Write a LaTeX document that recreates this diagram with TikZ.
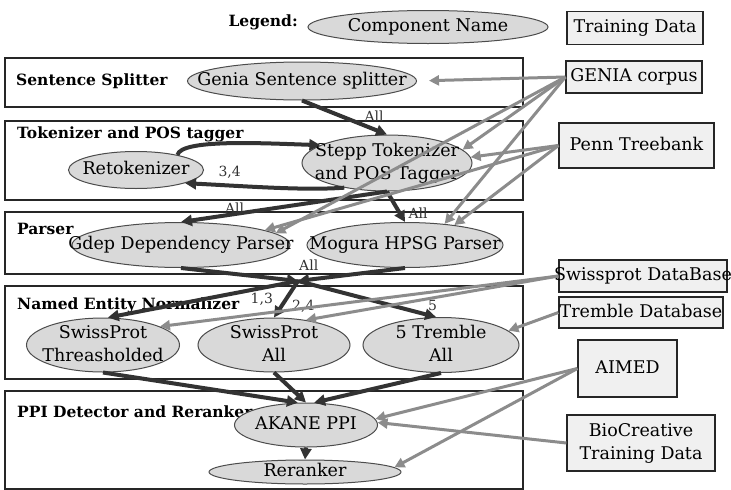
\documentclass[tikz,border=0pt]{standalone}
\usepackage{fontspec}
\setmainfont{DejaVu Serif}
\usepackage{tikz}
\usetikzlibrary{shapes.geometric, arrows.meta, positioning, calc}
\newcommand{\ctext}[1]{\makebox[0pt]{\raisebox{-.25em}[0pt][0pt]{\begin{tabular}{@{}c@{}}#1\end{tabular}}}}
\tikzset{
    comp/.style={ellipse, draw=black!70, line width=1pt, fill=gray!30, inner sep=0pt, font=\fontsize{17.5}{23}\selectfont},
    databox/.style={rectangle, draw=black!85, line width=1.2pt, fill=gray!12, inner sep=0pt, font=\fontsize{17.5}{23}\selectfont},
    stage/.style={rectangle, draw=black!85, line width=1.6pt, fill=white, minimum width=518pt, anchor=north west},
    stagelabel/.style={anchor=west, inner sep=0pt, font=\bfseries\fontsize{15.5}{18}\selectfont},
    num/.style={inner sep=1pt, font=\fontsize{14}{16}\selectfont},
    flow/.style={-{Triangle[length=11pt, width=11pt]}, line width=4pt, black!80},
    feed/.style={-{Triangle[length=10pt, width=10pt]}, line width=3pt, gray!90}
}

\begin{document}
\begin{tikzpicture}[x=1pt, y=-1pt]
    \useasboundingbox (0,0) rectangle (731,490);

    % legend
    \node (leglabel) [stagelabel, anchor=east] at (298,22) {Legend:};
    \node (legcomp) [comp, minimum width=240pt, minimum height=33pt] at (428,27) {\ctext{Component Name}};
    \node (legdata) [databox, minimum width=136pt, minimum height=33pt] at (635,28) {\ctext{Training Data}};

    % stages
    \node (ssbox) [stage, minimum height=49pt] at (4,57) {};
    \node (tokbox) [stage, minimum height=79pt] at (4,120) {};
    \node (parbox) [stage, minimum height=62pt] at (4,211) {};
    \node (nebox) [stage, minimum height=93pt] at (4,285) {};
    \node (ppibox) [stage, minimum height=98pt] at (4,390) {};

    \node (sslabel) [stagelabel] at (16,81) {Sentence Splitter};
    \node (toklabel) [stagelabel] at (17,134) {Tokenizer and POS tagger};
    \node (parlabel) [stagelabel] at (17,229) {Parser};
    \node (nelabel) [stagelabel] at (17,305) {Named Entity Normalizer};
    \node (ppilabel) [stagelabel] at (17,412) {PPI Detector and Reranker};

    % components
    \node (gss) [comp, minimum width=229pt, minimum height=38pt] at (302,81) {\ctext{Genia Sentence splitter}};
    \node (retok) [comp, minimum width=135pt, minimum height=37pt] at (136,170) {\ctext{Retokenizer}};
    \node (stepp) [comp, minimum width=170pt, minimum height=56pt] at (387,163) {\ctext{Stepp Tokenizer\\and POS Tagger}};
    \node (gdep) [comp, minimum width=218pt, minimum height=45pt] at (181,245) {\ctext{Gdep Dependency Parser}};
    \node (mogura) [comp, minimum width=196pt, minimum height=45pt] at (405,245) {\ctext{Mogura HPSG Parser}};
    \node (swt) [comp, minimum width=153pt, minimum height=54pt] at (103,345) {\ctext{SwissProt\\Threasholded}};
    \node (swa) [comp, minimum width=152pt, minimum height=54pt] at (274,345) {\ctext{SwissProt\\All}};
    \node (trem) [comp, minimum width=156pt, minimum height=55pt] at (441,345) {\ctext{5 Tremble\\All}};
    \node (akane) [comp, minimum width=143pt, minimum height=44pt] at (306,425) {\ctext{AKANE PPI}};
    \node (rerank) [comp, minimum width=192pt, minimum height=24pt] at (305,472) {\ctext{Reranker}};

    % training data
    \node (genia) [databox, minimum width=136pt, minimum height=32pt] at (634,77) {\ctext{GENIA corpus}};
    \node (penn) [databox, minimum width=155pt, minimum height=45pt] at (636.5,145.5) {\ctext{Penn Treebank}};
    \node (swdb) [databox, minimum width=168pt, minimum height=32pt] at (643,276) {\ctext{Swissprot DataBase}};
    \node (trdb) [databox, minimum width=164pt, minimum height=31pt] at (641,312.5) {\ctext{Tremble Database}};
    \node (aimed) [databox, minimum width=99pt, minimum height=57pt] at (627.5,368.5) {\ctext{AIMED}};
    \node (bioc) [databox, minimum width=148pt, minimum height=56pt] at (641,443) {\ctext{BioCreative\\Training Data}};

    \coordinate (merge) at (298,281);

    % pipeline
    \draw [flow] (gss.south) -- node[num, pos=0.7, above right] {All} (stepp.north);
    \draw [flow] (retok.20) .. controls +(4,-16) and +(-60,-2) .. (stepp.165);
    \draw [flow] (stepp.-150) .. controls +(-40,3) and +(60,3) .. node[num, pos=0.75, above=4pt] {3,4} (retok.-15);
    \draw [flow] (stepp.south) -- node[num, pos=0.74, above=-2pt] {All} (gdep.north);
    \draw [flow] (stepp.south) -- node[num, pos=0.7, right=6pt] {All} (mogura.north);
    \draw [flow] (gdep.south) -- (merge);
    \draw [flow] (mogura.south) -- node[num, pos=0.9, above=6pt] {All} (merge);
    \draw [flow] (merge) -- node[num, pos=0.19, below=2pt] {1,3} (swt.80);
    \draw [flow] (merge) -- node[num, pos=0.7, right=8pt] {2,4} (swa.north);
    \draw [flow] (merge) -- node[num, pos=0.92, above right] {5} (trem.100);
    \draw [flow] (swt.south) -- (akane.110);
    \draw [flow] (swa.south) -- (akane.north);
    \draw [flow] (trem.south) -- (akane.70);
    \draw [flow] (akane.south) -- (rerank.north);

    % training data arrows
    \draw [feed, shorten >=12pt] (genia.west) -- (gss.east);
    \draw [feed] (genia.west) -- (stepp.10);
    \draw [feed] (genia.west) -- (gdep.7);
    \draw [feed] (genia.west) -- (mogura.28);
    \draw [feed] (penn.west) -- (stepp.4);
    \draw [feed] (penn.west) -- (gdep.10);
    \draw [feed] (penn.west) -- (mogura.22);
    \draw [feed] (swdb.west) -- (swt.18);
    \draw [feed] (swdb.west) -- (swa.38);
    \draw [feed] (trdb.west) -- (trem.12);
    \draw [feed] (aimed.west) -- (akane.5);
    \draw [feed] (aimed.west) -- (rerank.3);
    \draw [feed] (bioc.west) -- (akane.2);
\end{tikzpicture}
\end{document}
